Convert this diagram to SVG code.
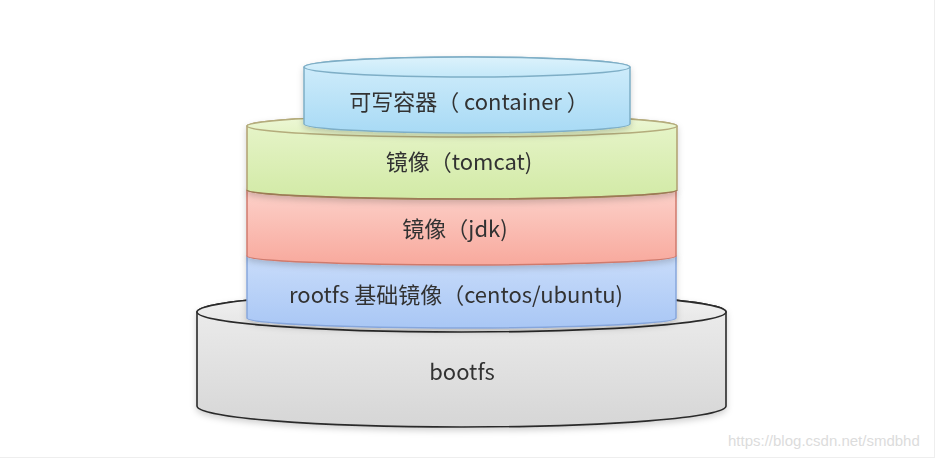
<svg xmlns="http://www.w3.org/2000/svg" width="937" height="460" viewBox="0 0 937 460">
<defs>
<linearGradient id="gGray" x1="0" y1="0" x2="0" y2="1"><stop offset="0" stop-color="#eeeeee"/><stop offset="1" stop-color="#d6d6d6"/></linearGradient>
<linearGradient id="gGrayTop" x1="0" y1="0" x2="0" y2="1"><stop offset="0" stop-color="#f2f2f2"/><stop offset="1" stop-color="#e4e4e4"/></linearGradient>
<linearGradient id="gBlue" x1="0" y1="0" x2="0" y2="1"><stop offset="0" stop-color="#cddffb"/><stop offset="1" stop-color="#a9c7f5"/></linearGradient>
<linearGradient id="gRed" x1="0" y1="0" x2="0" y2="1"><stop offset="0" stop-color="#fdd6cf"/><stop offset="1" stop-color="#f8a99d"/></linearGradient>
<linearGradient id="gGreen" x1="0" y1="0" x2="0" y2="1"><stop offset="0" stop-color="#e8f5cc"/><stop offset="1" stop-color="#d2eaa6"/></linearGradient>
<linearGradient id="gGreenTop" x1="0" y1="0" x2="0" y2="1"><stop offset="0" stop-color="#eef8d8"/><stop offset="1" stop-color="#e2f2c2"/></linearGradient>
<linearGradient id="gCyan" x1="0" y1="0" x2="0" y2="1"><stop offset="0" stop-color="#d3eefb"/><stop offset="1" stop-color="#a8daf5"/></linearGradient>
<linearGradient id="gCyanTop" x1="0" y1="0" x2="0" y2="1"><stop offset="0" stop-color="#dcf2fc"/><stop offset="1" stop-color="#c4e8f9"/></linearGradient>
<filter id="sh" x="-10%" y="-10%" width="120%" height="140%"><feDropShadow dx="0" dy="3" stdDeviation="3" flood-color="#000" flood-opacity="0.18"/></filter>
</defs>
<style>
.lbl{font-family:"Noto Sans CJK SC","Noto Sans",sans-serif;font-size:22px;fill:#333;text-anchor:middle}
.wm{font-family:"Liberation Sans",Arial,sans-serif;font-size:15px;fill:#dcdcdc}
</style>
<rect x="0" y="0" width="937" height="460" fill="#ffffff"/>
<line x1="934.5" y1="0" x2="934.5" y2="457" stroke="#eeeeee" stroke-width="1"/>
<line x1="0" y1="457.5" x2="935" y2="457.5" stroke="#eeeeee" stroke-width="1"/>

<g id="bootfs" filter="url(#sh)">
<path d="M197,312 L197,406 A264.5,21 0 0 0 726,406 L726,312 A264.5,20 0 0 0 197,312 Z" fill="url(#gGray)" stroke="#2b2b2b" stroke-width="1.6"/>
<ellipse cx="461.5" cy="312" rx="264.5" ry="20" fill="url(#gGrayTop)" stroke="#2b2b2b" stroke-width="1.6"/>
<text class="lbl" x="462" y="380">bootfs</text>
</g>

<g id="rootfs" filter="url(#sh)">
<path d="M247,256 L247,318 A214.5,10 0 0 0 676,318 L676,256 A214.5,10 0 0 0 247,256 Z" fill="url(#gBlue)" stroke="#86a6dc" stroke-width="1.5"/>
<text class="lbl" x="456" y="303">rootfs 基础镜像（centos/ubuntu)</text>
</g>

<g id="jdk" filter="url(#sh)">
<path d="M247,190 L247,256 A214.5,9 0 0 0 676,256 L676,190 A214.5,9 0 0 0 247,190 Z" fill="url(#gRed)" stroke="#d07a6c" stroke-width="1.5"/>
<text class="lbl" x="455" y="237">镜像（jdk)</text>
</g>

<g id="tomcat" filter="url(#sh)">
<path d="M247,126 L247,190 A215,9 0 0 0 677,190 L677,126 A215,11 0 0 0 247,126 Z" fill="url(#gGreen)" stroke="#b0a070" stroke-width="1.5"/>
<path d="M247,190 A215,9 0 0 0 677,190" fill="none" stroke="#9c7a55" stroke-width="1.6"/>
<ellipse cx="462" cy="126" rx="215" ry="11" fill="url(#gGreenTop)" stroke="#b4ac7c" stroke-width="1.5"/>
<text class="lbl" x="459" y="170">镜像（tomcat)</text>
</g>

<g id="container" filter="url(#sh)">
<path d="M304,67 L304,124 A163,9 0 0 0 630,124 L630,67 A163,10 0 0 0 304,67 Z" fill="url(#gCyan)" stroke="#7eaec6" stroke-width="1.5"/>
<ellipse cx="467" cy="67" rx="163" ry="10" fill="url(#gCyanTop)" stroke="#7eaec6" stroke-width="1.5"/>
<text class="lbl" x="469" y="110">可写容器（ container ）</text>
</g>

<text class="wm" x="728" y="446">https://blog.csdn.net/smdbhd</text>
</svg>
